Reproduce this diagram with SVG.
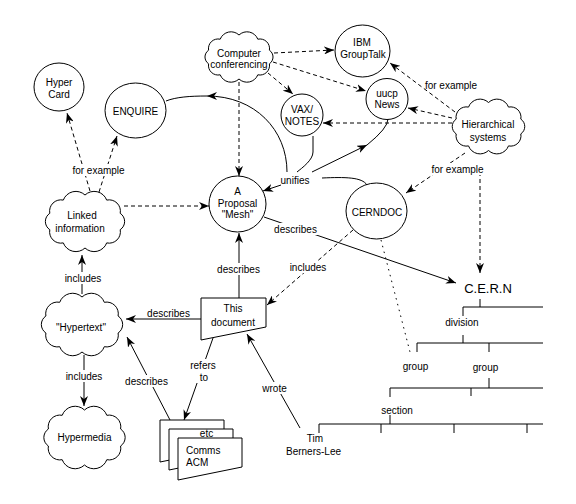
<svg xmlns="http://www.w3.org/2000/svg" width="576" height="504" viewBox="0 0 576 504">
<defs>
<style>
.n{fill:#fff;stroke:#000;stroke-width:1}
.c{fill:none;stroke:#000;stroke-width:1}
.d{stroke-dasharray:4 3}
.o{stroke-dasharray:1.5 4.5}
.a{marker-end:url(#ah)}
.m{fill:#fff;stroke:none}
text{font-family:"Liberation Sans",Arial,sans-serif;font-size:10px;fill:#000;text-anchor:middle}
.big{font-size:13px}
.l{text-anchor:start}
</style>
<marker id="ah" viewBox="0 0 10 8" refX="10" refY="4" markerWidth="10" markerHeight="8" markerUnits="userSpaceOnUse" orient="auto"><path d="M0,0 L10,4 L0,8 L3,4 Z" fill="#000"/></marker>
</defs>
<rect width="576" height="504" fill="#fff"/>

<g id="hypercard"><ellipse class="n" cx="59" cy="87" rx="25" ry="24"/><text x="59" y="86">Hyper</text><text x="59" y="98">Card</text></g>
<g id="enquire"><ellipse class="n" cx="135.5" cy="110.5" rx="30.5" ry="27.5"/><text x="135.5" y="114.5">ENQUIRE</text></g>
<g id="computer-conferencing"><path class="n" d="M239,35 A11.6,11.6 0 0 1 257.8,39.2 A9.6,9.6 0 0 1 269.4,50.2 A8.2,8.2 0 0 1 269.4,63.8 A9.6,9.6 0 0 1 257.8,74.8 A11.6,11.6 0 0 1 239,79 A11.6,11.6 0 0 1 220.2,74.8 A9.6,9.6 0 0 1 208.6,63.8 A8.2,8.2 0 0 1 208.6,50.2 A9.6,9.6 0 0 1 220.2,39.2 A11.6,11.6 0 0 1 239,35 Z"/><text x="239" y="56.5">Computer</text><text x="239" y="68">conferencing</text></g>
<g id="ibm-grouptalk"><ellipse class="n" cx="362.5" cy="51" rx="27.5" ry="26"/><text x="362" y="46">IBM</text><text x="363" y="57.5">GroupTalk</text></g>
<g id="uucp-news"><ellipse class="n" cx="387" cy="99" rx="21" ry="20.5"/><text x="387" y="96.5">uucp</text><text x="387" y="107.5">News</text></g>
<g id="vax-notes"><ellipse class="n" cx="302" cy="115" rx="21" ry="21"/><text x="302" y="112.5">VAX/</text><text x="302" y="124.5">NOTES</text></g>
<g id="hierarchical-systems"><path class="n" d="M488.5,102.5 A12.3,12.3 0 0 1 508.5,107.1 A10.3,10.3 0 0 1 520.8,119.1 A8.9,8.9 0 0 1 520.8,133.9 A10.3,10.3 0 0 1 508.5,145.9 A12.3,12.3 0 0 1 488.5,150.5 A12.3,12.3 0 0 1 468.5,145.9 A10.3,10.3 0 0 1 456.2,133.9 A8.9,8.9 0 0 1 456.2,119.1 A10.3,10.3 0 0 1 468.5,107.1 A12.3,12.3 0 0 1 488.5,102.5 Z"/><text x="488" y="128">Hierarchical</text><text x="488" y="140.5">systems</text></g>
<g id="linked-information"><path class="n" d="M85,195 A13.4,13.4 0 0 1 106.7,200.1 A11.3,11.3 0 0 1 120.2,213.3 A9.8,9.8 0 0 1 120.2,229.7 A11.3,11.3 0 0 1 106.7,242.9 A13.4,13.4 0 0 1 85,248 A13.4,13.4 0 0 1 63.3,242.9 A11.3,11.3 0 0 1 49.8,229.7 A9.8,9.8 0 0 1 49.8,213.3 A11.3,11.3 0 0 1 63.3,200.1 A13.4,13.4 0 0 1 85,195 Z"/><text x="82" y="219">Linked</text><text x="80" y="232">information</text></g>
<g id="proposal-mesh"><ellipse class="n" cx="237.5" cy="204" rx="28.5" ry="28"/><text x="237.5" y="194.5">A</text><text x="237.5" y="206.5">Proposal</text><text x="237.5" y="217.5">"Mesh"</text></g>
<g id="cerndoc"><ellipse class="n" cx="376.5" cy="211" rx="30.5" ry="28"/><text x="377" y="215.5">CERNDOC</text></g>
<g id="hypertext"><path class="n" d="M82,297 A13.7,13.7 0 0 1 104.3,302.3 A11.7,11.7 0 0 1 118.1,316 A10.2,10.2 0 0 1 118.1,333 A11.7,11.7 0 0 1 104.3,346.7 A13.7,13.7 0 0 1 82,352 A13.7,13.7 0 0 1 59.7,346.7 A11.7,11.7 0 0 1 45.9,333 A10.2,10.2 0 0 1 45.9,316 A11.7,11.7 0 0 1 59.7,302.3 A13.7,13.7 0 0 1 82,297 Z"/><text x="81" y="330.5">"Hypertext"</text></g>
<g id="hypermedia"><path class="n" d="M84.5,410 A13.7,13.7 0 0 1 106.8,415.3 A11.7,11.7 0 0 1 120.6,429 A10.2,10.2 0 0 1 120.6,446 A11.7,11.7 0 0 1 106.8,459.7 A13.7,13.7 0 0 1 84.5,465 A13.7,13.7 0 0 1 62.2,459.7 A11.7,11.7 0 0 1 48.4,446 A10.2,10.2 0 0 1 48.4,429 A11.7,11.7 0 0 1 62.2,415.3 A13.7,13.7 0 0 1 84.5,410 Z"/><text x="84.5" y="440.5">Hypermedia</text></g>
<g id="this-document"><path class="n" d="M201,298 H266 V327 L201,340 Z"/><text x="233" y="311.5">This</text><text x="233" y="325.5">document</text></g>
<g id="references"><path class="n" d="M160,420 H224 V449 L160,462 Z"/><path class="n" d="M169,429 H233 V457 L169,470 Z"/><path class="n" d="M178,438 H242 V467 L178,480 Z"/><text x="206.5" y="437">etc</text><text class="l" x="186" y="453.5">Comms</text><text class="l" x="186" y="465.5">ACM</text></g>
<g id="tim-berners-lee"><text x="315" y="441.5">Tim</text><text x="313.5" y="454.5">Berners-Lee</text></g>
<g id="cern-tree">
<text class="big" x="488" y="292.5">C.E.R.N</text>
<text x="462" y="325.5">division</text>
<text x="415.5" y="369.5">group</text>
<text x="485.5" y="370.5">group</text>
<text x="397" y="413.5">section</text>
<path class="c" d="M480,299 V307 M463,307 H543 M463,307 V316 M463,335 V343 M417,343 H543 M417,343 V352 M489,343 V352 M489,378 V388 M390,388 H543 M390,388 V397 M471,388 V396 M390,415 V424 M319,424 H543 M319,424 V433 M381,424 V433 M454,424 V433 M527,424 V433"/>
</g>

<g id="connectors">
<path class="c d a" d="M274,53 L334,50"/>
<path class="c d a" d="M273,62 L366,91"/>
<path class="c d a" d="M268,73 L293,94"/>
<path class="c d a" d="M239,82 L239,176"/>
<path class="c d a" d="M90,191 L67,113"/>
<path class="c d a" d="M99,192 L117,136"/>
<path class="c d a" d="M124,206 L209,206"/>
<path class="c d a" d="M455,112 L390,63"/>
<path class="c d a" d="M452,118 L408,108"/>
<path class="c d a" d="M452,123 L323,123"/>
<path class="c d a" d="M465,153 L406,193"/>
<path class="c d a" d="M480,165 L480,273"/>
<path class="c d a" d="M353,230 L267,305"/>
<path class="c o" d="M381,240 L410,352"/>
<path class="c a" d="M264,217 L456,283"/>
<path class="c a" d="M239,298 L239,233"/>
<path class="c a" d="M201,319 L126,319"/>
<path class="c a" d="M213,338 L184,420"/>
<path class="c a" d="M170,420 L127,337"/>
<path class="c a" d="M300,428 L247,334"/>
<path class="c a" d="M82,294 L82,255"/>
<path class="c a" d="M84,355 L84,406"/>
<path class="c a" d="M287,172 C287,130 255,96 207,96"/>
<path class="c" d="M207,96 C190,96 176,97 166,101"/>
<path class="c" d="M313,136 L313,152 C313,160 302,168 297,172"/>
<path class="c a" d="M312,172 L367,145"/>
<path class="c" d="M367,145 Q388,128 388,119"/>
<path class="c" d="M322,178 C345,177 362,177 367,185"/>
<path class="c a" d="M281,185 L263,191"/>
<rect class="m" x="72" y="164" width="53" height="12"/>
<rect class="m" x="431" y="163" width="53" height="12"/>
<rect class="m" x="274" y="223" width="44" height="12"/>
<rect class="m" x="289" y="261" width="38" height="12"/>
<rect class="m" x="217" y="263" width="44" height="12"/>
<rect class="m" x="64" y="272" width="38" height="12"/>
<rect class="m" x="65" y="370" width="38" height="12"/>
<rect class="m" x="190" y="359" width="27" height="24"/>
<rect class="m" x="125" y="375" width="44" height="12"/>
<rect class="m" x="262" y="382" width="26" height="12"/>
<text x="98.5" y="173.5">for example</text>
<text x="451" y="88.5">for example</text>
<text x="457.5" y="172.5">for example</text>
<text x="295" y="183.5">unifies</text>
<text x="295.5" y="232.5">describes</text>
<text x="308" y="270.5">includes</text>
<text x="238.5" y="272.5">describes</text>
<text x="168.5" y="316.5">describes</text>
<text x="83" y="281.5">includes</text>
<text x="84" y="379.5">includes</text>
<text x="203" y="368.5">refers</text>
<text x="204" y="380.5">to</text>
<text x="146.5" y="384.5">describes</text>
<text x="274.5" y="391.5">wrote</text>
</g>
</svg>
